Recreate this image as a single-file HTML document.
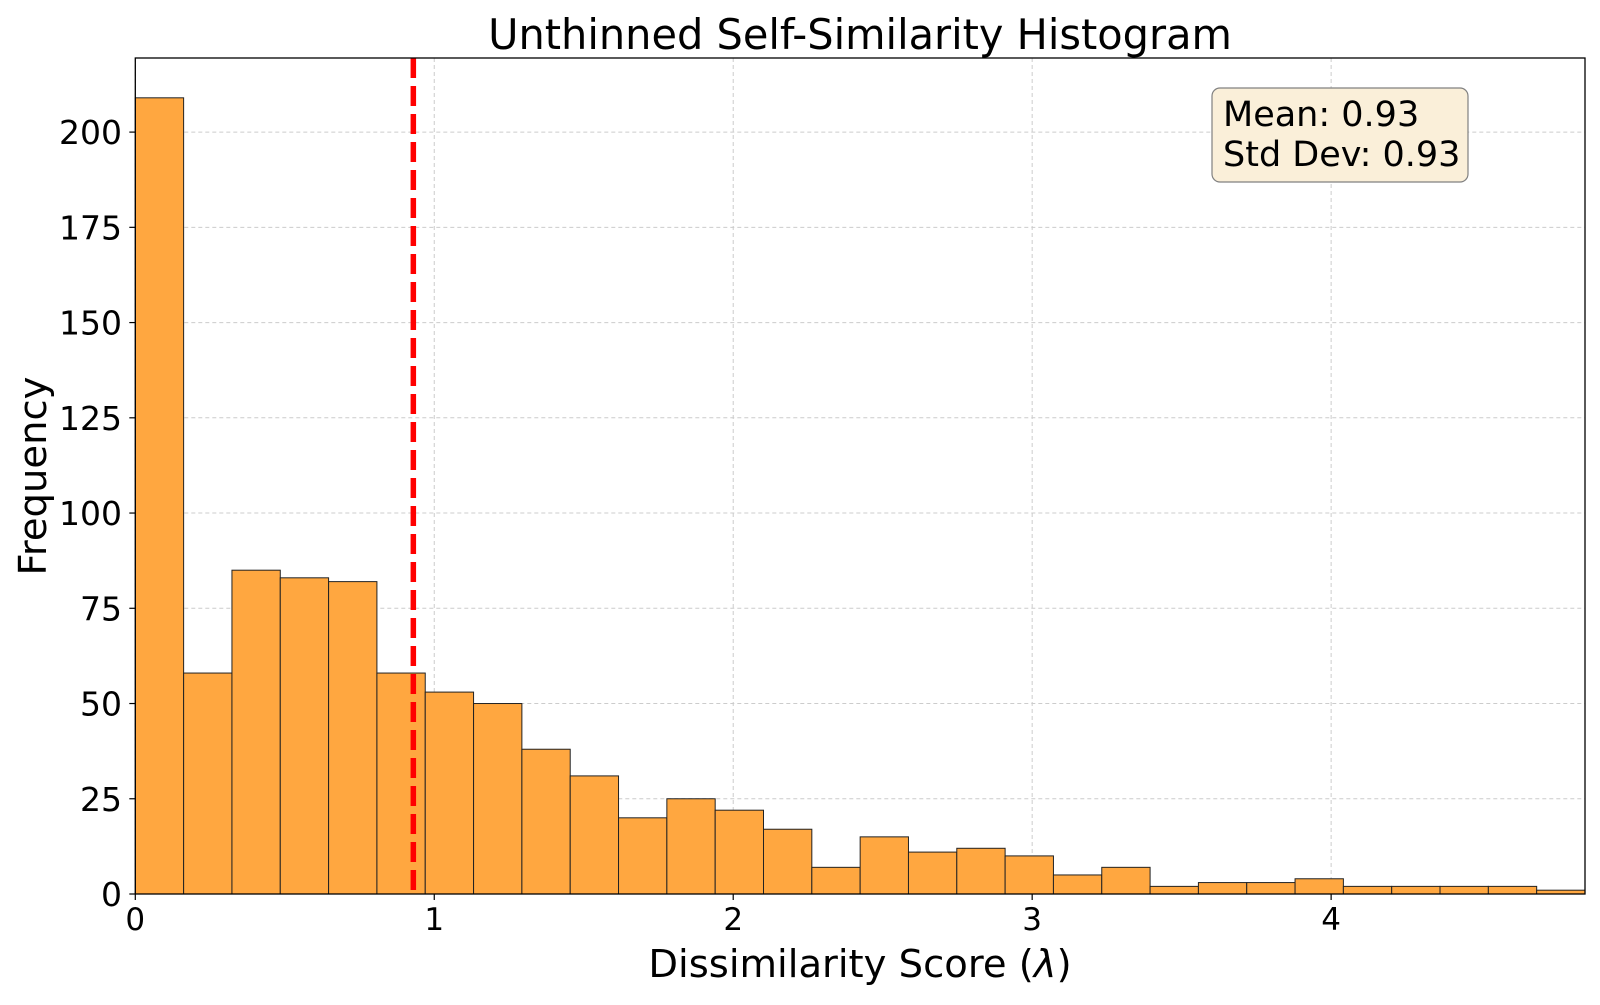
<!DOCTYPE html>
<html><head><meta charset="utf-8"><style>
body{margin:0;background:#fff;font-family:"Liberation Sans","DejaVu Sans",sans-serif}
svg text{font-family:"DejaVu Sans","Liberation Sans",sans-serif}
</style></head><body>
<svg id="chart" width="1600" height="1000" xmlns="http://www.w3.org/2000/svg">
<rect width="1600" height="1000" fill="#fff"/>
<g id="grid"></g><g id="bars"></g><g id="axes"></g>
<text x="860" y="49" text-anchor="middle" font-size="41.5">Unthinned Self-Similarity Histogram</text>
<text x="860" y="977" text-anchor="middle" font-size="38.5">Dissimilarity Score (<tspan font-style="italic">λ</tspan>)</text>
<text transform="translate(46,476) rotate(-90)" text-anchor="middle" font-size="38.5">Frequency</text>
<g>
<rect x="1212" y="88" width="256" height="94" rx="8" fill="#faefd9" stroke="#808080" stroke-width="1.2"/>
<text x="1223" y="126" font-size="35">Mean: 0.93</text>
<text x="1223" y="166" font-size="35">Std Dev: 0.93</text>
</g>
</svg>
<script>
const counts=[209,58,85,83,82,58,53,50,38,31,20,25,22,17,7,15,11,12,10,5,7,2,3,3,4,2,2,2,2,1];
const binStart=0, binWidth=0.16164;
const xTicks=[0,1,2,3,4];
const yTicks=[0,25,50,75,100,125,150,175,200];
const meanValue=0.93;
const X0=135.3,X1=1585,Y0=894,Y1=58;
const xMax=binStart+binWidth*counts.length, yMax=Math.max(...counts)*1.05;
const sx=v=>X0+(v-binStart)/(xMax-binStart)*(X1-X0);
const sy=v=>Y0-v/yMax*(Y0-Y1);
const NS="http://www.w3.org/2000/svg";
function mk(t,a,p){const e=document.createElementNS(NS,t);for(const k in a)e.setAttribute(k,a[k]);p.appendChild(e);return e;}
const grid=document.getElementById('grid'),bars=document.getElementById('bars'),axes=document.getElementById('axes');
xTicks.forEach(t=>{const x=sx(t);
const g=mk('line',{x1:x,x2:x,y1:Y1,y2:Y0,stroke:'#ccc','stroke-dasharray':'4,3','stroke-width':1},grid);


mk('line',{x1:x,x2:x,y1:Y0,y2:Y0+6,stroke:'#000','stroke-width':1.2},axes);
const l=mk('text',{x:x,y:930,'text-anchor':'middle','font-size':31},axes);l.textContent=t;

});
yTicks.forEach(t=>{const y=sy(t);
const g=mk('line',{x1:X0,x2:X1,y1:y,y2:y,stroke:'#ccc','stroke-dasharray':'4,3','stroke-width':1},grid);


mk('line',{x1:X0-6,x2:X0,y1:y,y2:y,stroke:'#000','stroke-width':1.2},axes);
const l=mk('text',{x:122,y:y+12,'text-anchor':'end','font-size':33},axes);l.textContent=t;

});
counts.forEach((c,i)=>{const a=sx(binStart+i*binWidth),b=sx(binStart+(i+1)*binWidth);
const r=mk('rect',{x:a,y:sy(c),width:b-a,height:Y0-sy(c),fill:'#ffa740',stroke:'#222','stroke-width':1},bars);

});
const m=mk('line',{x1:sx(meanValue),x2:sx(meanValue),y1:Y1,y2:Y0,stroke:'#ff0000','stroke-width':5.5,'stroke-dasharray':'20,8'},axes);


const f=mk('rect',{x:X0,y:Y1,width:X1-X0,height:Y0-Y1,fill:'none',stroke:'#000','stroke-width':1.3},axes);


</script>
</body></html>
